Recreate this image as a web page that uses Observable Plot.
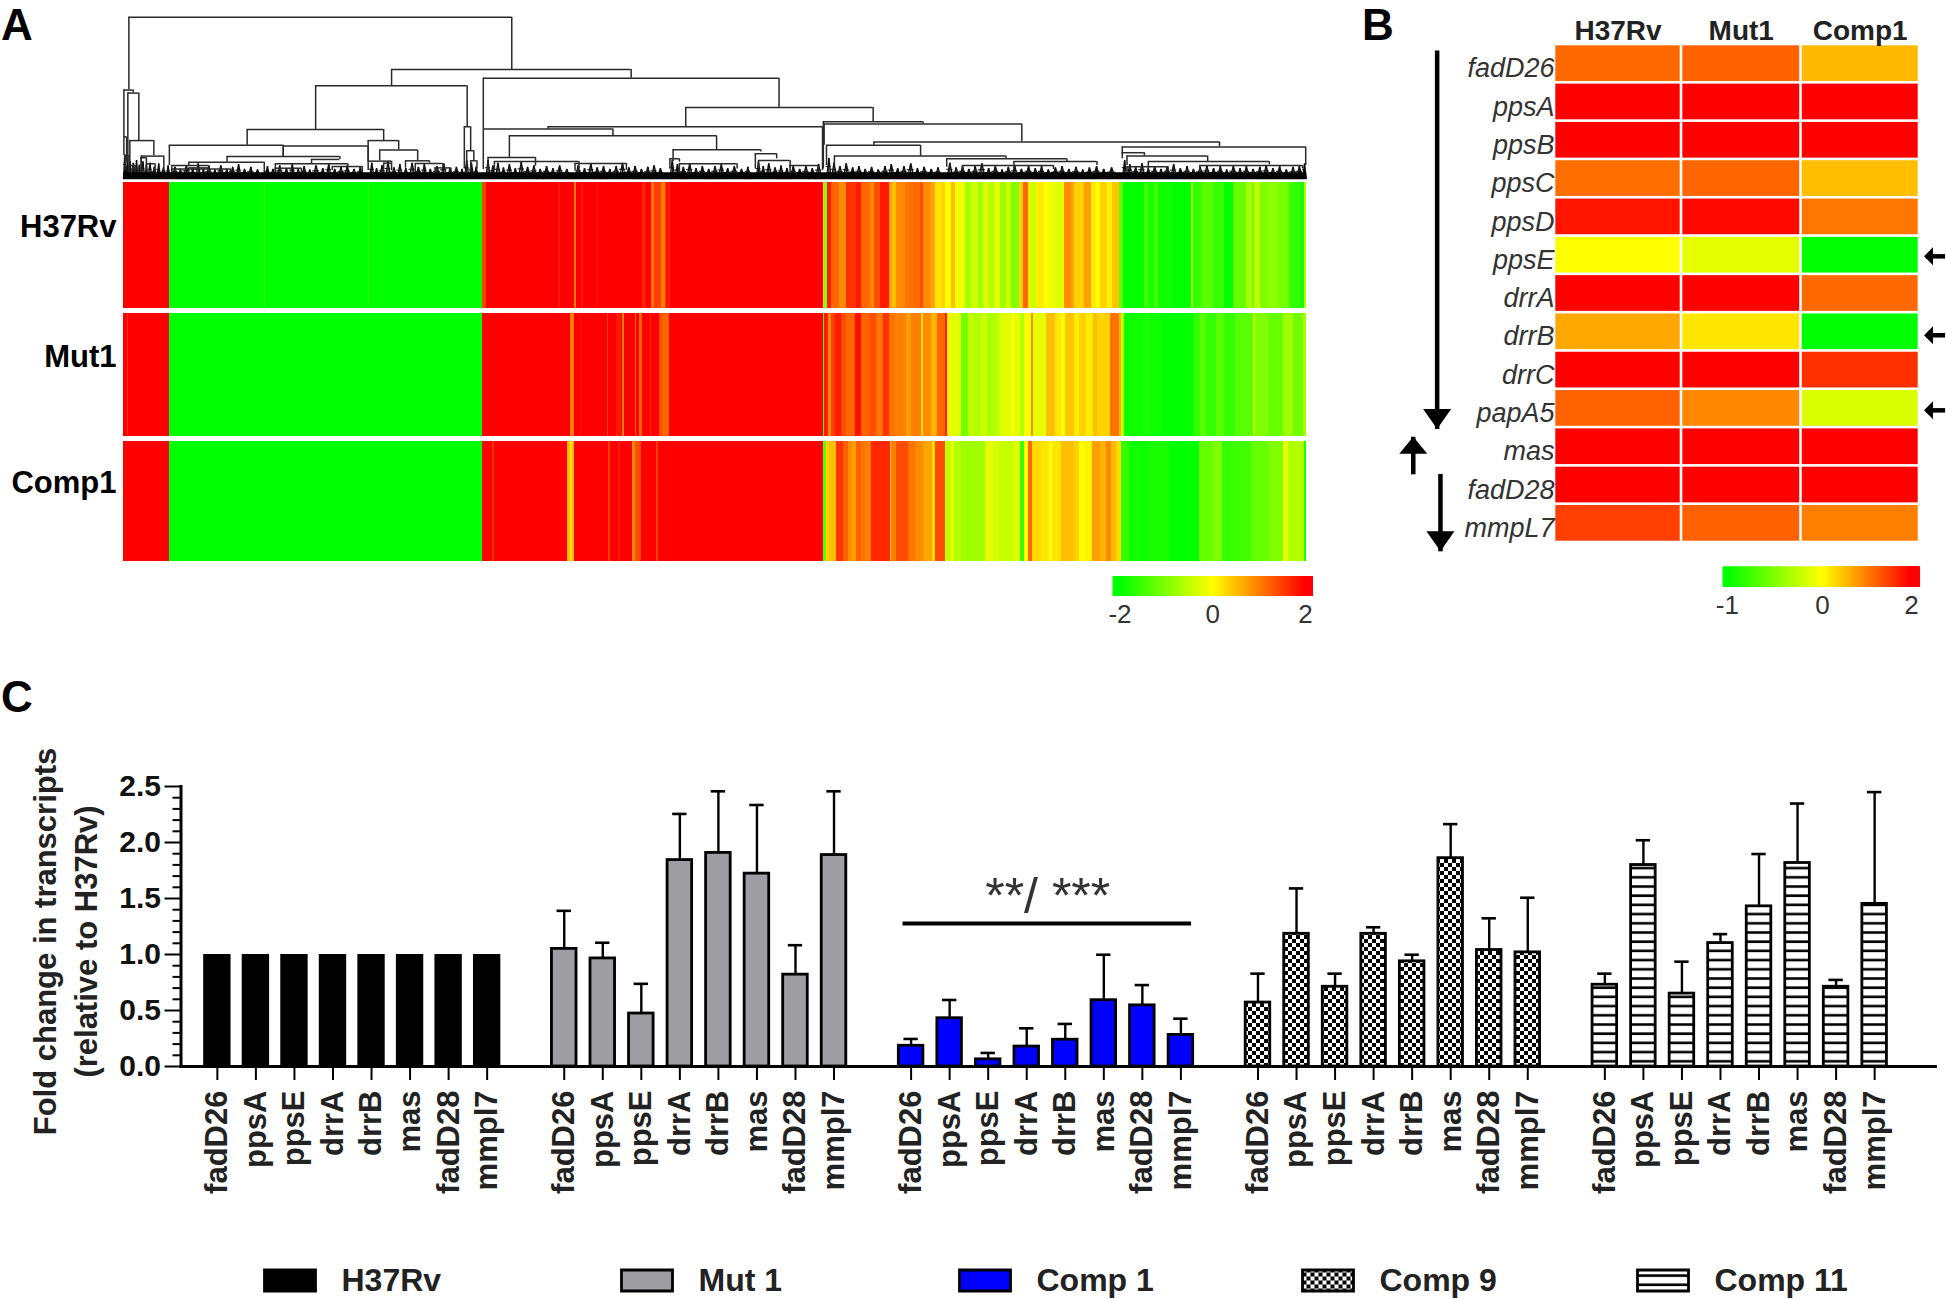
<!DOCTYPE html>
<html><head><meta charset="utf-8">
<script src="https://cdn.jsdelivr.net/npm/d3@7"></script>
<script src="https://cdn.jsdelivr.net/npm/@observablehq/plot@0.6"></script>
<style>
html,body{margin:0;padding:0;background:#fff}
#page{position:relative;width:1946px;height:1299px;overflow:hidden;font-family:"Liberation Sans",Arial,sans-serif}
#page>div.p{position:absolute;line-height:0}
#page>div.p svg{display:block;overflow:visible}
.letter{position:absolute;font-weight:bold;font-size:44px;line-height:44px;color:#000}
</style></head><body><div id="page">
<div class="letter" style="left:1px;top:3px">A</div>
<div class="letter" style="left:1362px;top:3px">B</div>
<div class="letter" style="left:1px;top:675px">C</div>
</div>
<script>
// ---------- Panel A: heat map ----------
const heatRows = ["H37Rv","Mut1","Comp1"];
const heatBlocks = [[0,137,2],[137,1079,-2],[1079,2100,2]];
const fineStripes = {
 H37Rv:[[424,427,-1.6],[735,738,-1.6],[1079,1089,1.5],[1305,1311,1.8],[1354,1361,1],[1376,1380,1.8],[1421,1425,1.9],[1559,1563,1.7],[1563,1571,1.8],[1586,1593,1.1],[1593,1616,1.5],[1616,1626,1],[1626,1631,1.5],[1633,1641,1.8]],
 Mut1:[[12,16,1.6],[1343,1355,1],[1371,1374,1.8],[1453,1457,1.5],[1481,1496,1.8],[1497,1503,1],[1536,1541,1.2],[1549,1557,1.2],[1581,1585,1.6],[1609,1619,1.4],[1619,1638,1.2]],
 Comp1:[[1107,1113,1.6],[1334,1341,.5],[1341,1348,.2],[1348,1355,.5],[1457,1463,1.5],[1486,1491,1.8],[1529,1536,.9],[1536,1556,1.4],[1601,1607,1.5]]
};
const midH37Rv = [[28,.3],[38,-1],[48,1.8],[56,1.2],[72,1.2],[95,.9],[123,1.6],[140,1.8],[160,1.2],[170,1.1],[178,.9],[197,1.4],[222,1.8],[232,.75],[245,.5],[270,.9],[288,1.1],[315,1.15],[325,1.4],[345,.9],[362,.75],[378,.2],[392,.35],[408,0],[420,.5],[450,-.1],[468,-.7],[490,-.4],[505,-.75],[520,-.25],[540,-.55],[555,-.2],[575,-.75],[590,-.4],[615,-1],[625,.35],[640,1.2],[648,.2],[665,-.4],[690,.15],[705,0],[725,-.15],[748,-.25],[770,.9],[780,.7]];
const midMut1 = [[27,-1.6],[40,1.8],[50,.9],[62,1.5],[80,1.8],[95,1.4],[120,1.2],[140,1.9],[165,1.25],[185,1.4],[205,1.1],[222,1.6],[240,1.1],[275,1],[290,.75],[320,1],[326,.3],[350,.9],[368,.6],[390,1.2],[396,1.8],[408,.1],[438,-.25],[460,-1.1],[478,-.5],[500,-.6],[518,-.4],[530,-.7],[552,-.6],[590,-.25],[600,0],[618,-.2],[630,-.6],[650,-.05],[655,.9],[695,-.2],[722,.5],[740,.2],[752,0],[780,.45]];
const midComp1 = [[25,.6],[35,-1.3],[43,.35],[64,.5],[85,1.6],[100,1.25],[112,.9],[125,.75],[140,1.25],[150,1.1],[170,1],[225,1.7],[230,.5],[245,1],[280,1.4],[300,1.1],[325,.9],[352,.7],[362,.3],[390,1.4],[408,-.5],[418,-.2],[440,-.6],[510,-.75],[535,-.2],[555,-.35],[600,-.45],[618,-.25],[630,-1.6],[642,0],[652,1.2],[680,.3],[705,.2],[712,0],[740,.2],[780,.5]];
const endH37Rv = [[45,.35],[65,.75],[80,.15],[92,0],[112,.35],[128,.1],[150,.45],[162,-1.2],[225,-2],[235,-1.5],[255,-1.8],[265,-1.5],[310,-1.9],[365,-2],[372,-.75],[395,-1.6],[430,-1.3],[465,-1.6],[490,-2],[530,-1.2],[548,-.7],[555,-1.1],[572,-.5],[600,-1],[630,-.9],[660,-1.1],[695,-1.6],[705,-1.9],[710,-.5]];
const endMut1 = [[30,.15],[50,.35],[70,.15],[82,.5],[123,.35],[150,1.1],[155,.6],[165,-.5],[225,-1.9],[240,-1.8],[278,-1.9],[372,-2],[392,-1.6],[410,-1.3],[440,-1.6],[465,-1.3],[498,-1.6],[550,-1.3],[558,-.45],[600,-1],[642,-1.2],[670,-.75],[700,-1.1],[710,-.7]];
const endComp1 = [[28,.35],[48,0],[68,.1],[92,.75],[110,.6],[124,.95],[140,.55],[155,.3],[180,-1.6],[240,-1.9],[300,-1.8],[390,-2],[432,-1.2],[458,-1],[490,-1.6],[545,-1.5],[600,-1.2],[640,-1],[655,-.2],[695,-.6],[705,-.7],[710,-1.8]];
const midByRow = {H37Rv:midH37Rv,Mut1:midMut1,Comp1:midComp1};
const endByRow = {H37Rv:endH37Rv,Mut1:endMut1,Comp1:endComp1};

// ---------- Panel A: dendrogram [left, right, height, left child height, right child height] ----------
const dendroNodes = [
[35.8,520,480,265,325],[29.5,41.3,264,125,255],[34.5,48.4,255,50,114],[37,67.4,114,50,70],[51.4,80,68,20,25],[51.4,58,63,15,30],[58,69,45,20,15],[29.5,33,125,70,50],[31,36,70,25,30],[36,44,40,15,20],[40,48,30,10,14],
[272,463.6,277,147,155],[185.4,358,147,100,114],[87,231,100,40,67],[231,338.4,98,67,52],[160,302.6,67,50,58],[111.6,207,50,40,12],[266.8,302.6,58,45,58],[221,312.7,45,20,37],[293,331,37,25,10],[90,137,40,15,33],[90,164,30,10,12],[111.6,137,33,20,25],[221,254,32,15,12],
[338.4,377,114,52,86],[353,401,86,54,55],[338.4,368,53,25,47],[358,368,47,20,25],[385.6,416,54,32,47],[398,433,46,15,33],[423,443,33,15,18],[460,468,155,30,84],[463,472,84,30,54],[468,476,54,20,30],
[368,671,325,277,299],[484,858,299,148,212],[740,977,212,155,170],[566,913,155,148,25],[484,648,148,28,128],[517,779,128,64,87],[490,550,64,30,38],[498,605,52,25,30],[600,665,46,25,25],[724,835,87,52,80],[720,732,60,30,50],[732,805,45,20,30],[828,855,75,30,60],[832,872,55,25,33],[872,908,40,20,20],
[914,1040,170,30,163],[915,1165,163,100,110],[978,1415,110,100,95],[918,1037,100,40,68],[928,1145,68,38,60],[1070,1222,60,35,52],[1155,1260,52,30,40],[1090,1205,40,20,28],[1292,1524,95,75,40],[1292,1320,78,60,68],[1298,1400,68,40,52],[1325,1478,52,30,42],[1298,1350,36,18,20],[1390,1520,40,20,30]
];
const leafTufts = [
[29,32,72],[32,36,58],[36,39,52],[39,44,48],[44,47,56],[47,51,42],[51,56,52],[56,60,40],[60,65,48],[65,71,36],[71,76,46],[76,83,34],[83,88,40],
[90,98,36],[98,104,30],[104,113,40],[113,120,32],[120,127,46],[127,133,30],[133,141,38],[141,148,28],[148,156,40],[156,163,30],[163,171,36],[171,178,44],[178,186,30],[186,194,36],[194,203,28],
[208,214,38],[214,222,30],[222,231,40],[231,239,32],[239,246,44],[246,254,30],[254,261,38],[261,268,28],[268,277,40],[277,285,32],[285,292,46],[292,300,30],[300,308,36],[308,316,40],[316,325,30],[325,332,36],
[340,346,48],[346,352,32],[352,360,40],[360,367,52],[367,375,34],[375,382,44],[382,390,32],[390,398,48],[398,406,36],[406,413,44],[413,421,30],[421,430,38],[430,438,46],[438,446,32],[446,454,36],[454,460,30],[460,466,56],[466,472,48],[472,478,36],
[487,493,56],[493,499,40],[499,506,48],[506,513,34],[513,521,44],[521,528,32],[528,536,50],[536,544,36],[544,552,40],[552,560,30],[560,568,38],[568,576,32],[576,585,40],[585,594,30],
[600,608,40],[608,616,32],[616,624,46],[624,632,34],[632,640,38],[640,648,30],[648,656,38],[656,664,48],[664,672,34],[672,680,38],[680,688,30],[688,696,36],[696,704,40],[704,712,32],
[720,726,56],[726,733,44],[733,741,36],[741,749,46],[749,757,32],[757,765,38],[765,773,30],[773,781,38],[781,789,44],[789,797,32],[797,806,38],[806,815,30],[815,822,36],
[829,835,52],[835,841,38],[841,849,46],[849,857,34],[857,864,40],[864,872,32],[872,880,38],[880,888,30],[888,896,38],[896,904,32],[904,912,44],
[918,924,62],[924,931,48],[931,939,38],[939,947,46],[947,955,34],[955,963,38],[963,971,30],[971,979,36],[979,988,28],[988,996,38],[996,1004,44],[1004,1012,32],[1012,1020,38],[1020,1029,46],[1029,1037,32],[1037,1046,36],[1046,1055,30],[1055,1063,34],
[1070,1078,48],[1078,1086,34],[1086,1094,38],[1094,1102,30],[1102,1110,38],[1110,1119,46],[1119,1127,32],[1127,1136,38],[1136,1144,28],[1144,1152,36],[1152,1160,40],[1160,1169,30],[1169,1178,38],[1178,1186,32],[1186,1194,38],[1194,1203,28],[1203,1212,34],[1212,1220,38],[1220,1229,30],[1229,1238,36],[1238,1246,28],[1246,1255,34],[1255,1264,38],[1264,1273,30],[1273,1284,34],
[1292,1298,56],[1298,1305,44],[1305,1313,36],[1313,1321,46],[1321,1329,32],[1329,1337,38],[1337,1345,30],[1345,1353,38],[1353,1361,44],[1361,1370,32],[1370,1378,38],[1378,1386,30],[1386,1395,36],[1395,1403,40],[1403,1412,32],[1412,1420,38],[1420,1428,28],[1428,1437,38],[1437,1445,32],[1445,1453,38],[1453,1462,30],[1462,1470,36],[1470,1478,40],[1478,1487,32],[1487,1495,38],[1495,1504,28],[1504,1512,36],[1512,1520,38],[1520,1525,46]
];
const legendATicks = [-2,0,2];

// ---------- Panel B ----------
const bGenes = ["fadD26","ppsA","ppsB","ppsC","ppsD","ppsE","drrA","drrB","drrC","papA5","mas","fadD28","mmpL7"];
const bStrains = ["H37Rv","Mut1","Comp1"];
const bH37Rv = [1.17,2,2,1.14,1.84,0,2,.68,2,1.23,2,2,1.5];
const bMut1  = [1.25,2,2,1.2,1.92,-.1,2,.2,2,.93,2,2,1.25];
const bComp1 = [.55,2,2,.5,1.07,-1,1.17,-1,1.62,-.15,2,2,1];
const legendBTicks = [-1,0,2];
// arrows, in column and row units of the heat map
const verticalArrows = [{x:-.924,from:.157,to:10.04,head:"down"},{x:-1.112,from:11.22,to:10.24,head:"up"},{x:-.898,from:11.21,to:13.23,head:"down"}];
const sideArrowRows = [5.53,7.59,9.55];

// ---------- Panel C ----------
const groups = ["H37Rv","Mut 1","Comp 1","Comp 9","Comp 11"];
const cGenes = ["fadD26","ppsA","ppsE","drrA","drrB","mas","fadD28","mmpl7"];
const meanH37Rv = [1,1,1,1,1,1,1,1];
const meanMut1  = [1.05,.965,.473,1.843,1.907,1.722,.82,1.888];
const errMut1   = [1.39,1.105,.738,2.255,2.457,2.335,1.083,2.457];
const meanComp1 = [.185,.431,.064,.178,.239,.592,.546,.282];
const errComp1  = [.246,.594,.121,.341,.38,.998,.727,.427];
const meanComp9 = [.571,1.185,.712,1.185,.939,1.86,1.04,1.019];
const errComp9  = [.829,1.59,.829,1.243,.998,2.164,1.323,1.507];
const meanComp11= [.73,1.799,.651,1.102,1.43,1.817,.712,1.452];
const errComp11 = [.829,2.02,.936,1.182,1.897,2.348,.773,2.45];
const yMajor = [0,.5,1,1.5,2,2.5];
const yMinor = [.1,.2,.3,.4,.6,.7,.8,.9,1.1,1.2,1.3,1.4,1.6,1.7,1.8,1.9,2.1,2.2,2.3,2.4];
const sigValue = 1.277, sigText = "**/ ***";
const yTitle = "Fold change in transcripts\n(relative to H37Rv)";

// ---------- helpers ----------
const page = document.getElementById("page");
const sans = {fontFamily:"Liberation Sans, Arial, sans-serif", background:"transparent", overflow:"visible"};
function place(svg,left,top){const d=document.createElement("div");d.className="p";d.style.left=left+"px";d.style.top=top+"px";d.appendChild(svg);page.appendChild(d);}
const heatColorA = {type:"linear",domain:[-2,0,2],range:["#00ff00","#ffff00","#ff0000"],interpolate:"rgb",clamp:true};
const heatColorB = {type:"linear",domain:[-1,0,2],range:["#00ff00","#ffff00","#ff0000"],interpolate:"rgb",clamp:true};

// ---------- A: dendrogram ----------
const segsD = dendroNodes.map(([x1,x2,h,hL,hR])=>({x1,x2,h,hL,hR}));
const segsT = leafTufts.map(([x1,x2,h])=>({x1,x2,h,mid:(x1+x2)/2}));
place(Plot.plot({width:1320,height:180,marginLeft:123,marginRight:14,marginTop:10,marginBottom:1.5,style:sans,
  x:{domain:[29,1525],axis:null},y:{domain:[0,500],axis:null},
  marks:[
    Plot.link(segsT,{x1:"x1",y1:0,x2:"mid",y2:"h",stroke:"#111",strokeWidth:1.3}),
    Plot.link(segsT,{x1:"x2",y1:0,x2:"mid",y2:"h",stroke:"#111",strokeWidth:1.3}),
    Plot.link(segsT,{x1:"mid",y1:0,x2:"mid",y2:"h",stroke:"#111",strokeWidth:1.3}),
    Plot.ruleY(segsT,{x1:"x1",x2:"x2",y:d=>d.h*.6,stroke:"#111",strokeWidth:1}),
    Plot.ruleY(segsD,{x1:"x1",x2:"x2",y:"h",stroke:"#2a2a2a",strokeWidth:1.5}),
    Plot.ruleX(segsD,{x:"x1",y1:"hL",y2:"h",stroke:"#2a2a2a",strokeWidth:1.5}),
    Plot.ruleX(segsD,{x:"x2",y1:"hR",y2:"h",stroke:"#2a2a2a",strokeWidth:1.5}),
    Plot.ruleY([10],{x1:29,x2:1525,stroke:"#000",strokeWidth:7})
  ]}),0,0);

// ---------- A: heat map ----------
const stripes = heatRows.flatMap((row,ri)=>{
  const out = heatBlocks.map(([a,b,v])=>({ri,a,b,v}));
  fineStripes[row].forEach(([a,b,v])=>out.push({ri,a,b,v}));
  let s = 2100; midByRow[row].forEach(([e,v])=>{out.push({ri,a:s,b:2076+e,v});s=2076+e;});
  endByRow[row].forEach(([e,v])=>{out.push({ri,a:s,b:2841+e,v});s=2841+e;});
  return out;
});
place(Plot.plot({width:1320,height:390,marginLeft:123,marginRight:14,marginTop:2,marginBottom:9,style:sans,
  x:{domain:[0,3551],axis:null},
  y:{type:"linear",domain:[0,1,2,3],range:[-.3,130.3,258.3,383.3],axis:null},
  color:heatColorA,
  marks:[
    Plot.rect(stripes,{x1:"a",x2:"b",y1:"ri",y2:d=>d.ri+1,insetTop:2.3,insetBottom:2.3,fill:"v",shapeRendering:"crispEdges"}),
    Plot.text(heatRows,{x:()=>0,y:(d,i)=>i+.5,text:d=>d,textAnchor:"end",dx:-7,dy:-18,fontSize:31,fontWeight:"bold",fill:"#000"})
  ]}),0,180);

// ---------- A: colour key ----------
const rampA = d3.range(-2.14,2.15,.02);
place(Plot.plot({width:220,height:64,marginLeft:13,marginRight:8.5,marginTop:6,marginBottom:38,style:sans,
  x:{domain:[-2.14,2.14],label:null},color:heatColorA,
  marks:[
    Plot.ruleX(rampA,{x:d=>d,stroke:d=>d,strokeWidth:2}),
    Plot.axisX({ticks:legendATicks,tickSize:0,tickPadding:8,fontSize:26,fill:"#333",tickFormat:d=>String(d),label:null})
  ]}),1100,570);

// ---------- B: heat map ----------
const bCells = bGenes.flatMap((g,i)=>[bH37Rv,bMut1,bComp1].map((vals,j)=>({i,j,v:vals[i]})));
const headDown = {draw(c){c.moveTo(-14,-20);c.lineTo(14,-20);c.lineTo(0,0);c.closePath();}};
const headUp = {draw(c){c.moveTo(-14,17);c.lineTo(14,17);c.lineTo(0,0);c.closePath();}};
const headLeft = {draw(c){c.moveTo(0,0);c.lineTo(9,-9);c.lineTo(9,9);c.closePath();}};
place(Plot.plot({width:596,height:560,marginLeft:0,marginRight:0,marginTop:0,marginBottom:0,style:sans,
  x:{type:"linear",domain:[0,1,2,3],range:[204,331,450.5,569],axis:null},
  y:{type:"linear",domain:[0,13],range:[44,542],axis:null},
  color:heatColorB,
  marks:[
    Plot.rect(bCells,{x1:d=>d.j,x2:d=>d.j+1,y1:d=>d.i,y2:d=>d.i+1,fill:"v",inset:1.3}),
    Plot.text(bGenes,{x:()=>0,y:(d,i)=>i+.5,text:d=>d,textAnchor:"end",fontSize:27,fontStyle:"italic",fill:"#333",dy:5}),
    Plot.text(bStrains,{x:(d,i)=>i+.5,y:()=>0,text:d=>d,lineAnchor:"bottom",fontSize:28,fontWeight:"bold",fill:"#222",dy:-5}),
    Plot.link(verticalArrows,{x1:"x",x2:"x",y1:"from",y2:"to",stroke:"#000",strokeWidth:4.5}),
    Plot.dot(verticalArrows.filter(d=>d.head==="down"),{x:"x",y:"to",symbol:headDown,fill:"#000"}),
    Plot.dot(verticalArrows.filter(d=>d.head==="up"),{x:"x",y:"to",symbol:headUp,fill:"#000"}),
    Plot.ruleY(sideArrowRows,{x1:()=>3.06,x2:()=>3.22,y:d=>d,stroke:"#000",strokeWidth:4.5}),
    Plot.dot(sideArrowRows,{x:()=>3.038,y:d=>d,symbol:headLeft,fill:"#000"})
  ]}),1350,0);

// ---------- B: colour key ----------
const rampB = d3.range(-1.04,2.18,.01);
place(Plot.plot({width:596,height:70,marginLeft:0,marginRight:0,marginTop:6.5,marginBottom:43,style:sans,
  x:{type:"linear",domain:[-1.04,0,2.18],range:[373,472,569],label:null},color:heatColorB,
  marks:[
    Plot.ruleX(rampB,{x:d=>d,stroke:d=>d,strokeWidth:2}),
    Plot.axisX({ticks:legendBTicks,tickSize:0,tickPadding:8,fontSize:26,fill:"#333",tickFormat:d=>String(d),label:null})
  ]}),1350,560);

// ---------- C: bars ----------
const keyOf = (g,n)=>g+"|"+n;
const barKeys = groups.flatMap(g=>cGenes.map(n=>keyOf(g,n)));
const xDomain = groups.flatMap((g,i)=>[...cGenes.map(n=>keyOf(g,n)),...(i<groups.length-1?["gap"+i]:[])]);
const rowsFor = (g,means,errs)=>cGenes.map((n,i)=>({key:keyOf(g,n),mean:means[i],err:errs?errs[i]:null}));
const rH = rowsFor(groups[0],meanH37Rv);
const rM = rowsFor(groups[1],meanMut1,errMut1);
const rC1 = rowsFor(groups[2],meanComp1,errComp1);
const rC9 = rowsFor(groups[3],meanComp9,errComp9);
const rC11 = rowsFor(groups[4],meanComp11,errComp11);
const withErr = [...rM,...rC1,...rC9,...rC11];
const patterns = (index,scales,values,dim,context)=>{
  const ns="http://www.w3.org/2000/svg", doc=context.document;
  const defs=doc.createElementNS(ns,"defs");
  defs.innerHTML='<pattern id="checker" width="8" height="8" patternUnits="userSpaceOnUse"><rect width="8" height="8" fill="#fff"/><rect width="4" height="4" fill="#000"/><rect x="4" y="4" width="4" height="4" fill="#000"/></pattern>'+
  '<pattern id="hstripes" width="9" height="9.2" patternUnits="userSpaceOnUse"><rect width="9" height="9.2" fill="#fff"/><rect y="3" width="9" height="2.6" fill="#000"/></pattern>';
  return defs;
};
const stroked = {x:"key",y:"mean",stroke:"#000",strokeWidth:2.8,insetLeft:1.4,insetRight:1.4};
place(Plot.plot({width:1946,height:515,marginLeft:180.5,marginRight:11,marginTop:51,marginBottom:184,style:sans,
  x:{type:"band",domain:xDomain,range:[192,1899],padding:.29,align:.5,round:false,label:null},
  y:{domain:[0,2.5],label:null},
  marks:[
    patterns,
    Plot.ruleX(withErr,{x:"key",y1:"mean",y2:"err",stroke:"#000",strokeWidth:2.4}),
    Plot.tickY(withErr,{x:"key",y:"err",stroke:"#000",strokeWidth:2.6,insetLeft:6.5,insetRight:6.5}),
    Plot.barY(rH,{x:"key",y:"mean",fill:"#000"}),
    Plot.barY(rM,{...stroked,fill:"#9d9da2"}),
    Plot.barY(rC1,{...stroked,fill:"#0000ff"}),
    Plot.barY(rC9,{...stroked,fill:"url(#checker)"}),
    Plot.barY(rC11,{...stroked,fill:"url(#hstripes)"}),
    Plot.frame({anchor:"left",stroke:"#000",strokeWidth:3}),
    Plot.frame({anchor:"bottom",stroke:"#000",strokeWidth:3}),
    Plot.axisY({ticks:yMinor,tickSize:8,tickFormat:()=>"",strokeWidth:2,label:null}),
    Plot.axisY({ticks:yMajor,tickSize:16,tickPadding:4,tickFormat:".1f",fontSize:30,fontWeight:"bold",strokeWidth:2,label:null,fill:"#111",stroke:"#000"}),
    Plot.axisX({ticks:barKeys,tickFormat:k=>k.split("|")[1],tickRotate:-90,tickSize:14,tickPadding:10,fontSize:31,fontWeight:"bold",strokeWidth:2,label:null,fill:"#222",stroke:"#000"}),
    Plot.ruleY([sigValue],{x1:()=>keyOf("Comp 1","fadD26"),x2:()=>keyOf("Comp 1","mmpl7"),insetLeft:5.6,insetRight:3,stroke:"#000",strokeWidth:4}),
    Plot.text([sigText],{x:()=>keyOf("Comp 1","drrA"),y:()=>1.37,dx:21,fontSize:50,fill:"#333",lineAnchor:"bottom"}),
    Plot.text([yTitle],{frameAnchor:"left",textAnchor:"middle",dx:-118,dy:15,rotate:-90,fontSize:31,fontWeight:"bold",lineHeight:1.32,fill:"#222"})
  ]}),0,735);

// ---------- C: legend ----------
const swatch = {draw(c){c.rect(0,-10.5,51,21);}};
const legendFills = ["#000","#9d9da2","#0000ff","url(#checker)","url(#hstripes)"];
place(Plot.plot({width:1946,height:44,marginLeft:0,marginRight:0,marginTop:0,marginBottom:0,style:sans,
  x:{type:"linear",domain:[0,1,2,3,4],range:[264,621,959,1302,1637],axis:null},
  y:{domain:[0,1],axis:null},
  color:{type:"identity"},
  marks:[
    patterns,
    Plot.dot(groups,{x:(d,i)=>i,y:()=>.5,symbol:swatch,fill:(d,i)=>legendFills[i],stroke:"#000",strokeWidth:2.8}),
    Plot.text(groups,{x:(d,i)=>i,y:()=>.5,dx:77,text:d=>d,textAnchor:"start",fontSize:32,fontWeight:"bold",fill:"#222"})
  ]}),0,1258);
</script></body></html>
